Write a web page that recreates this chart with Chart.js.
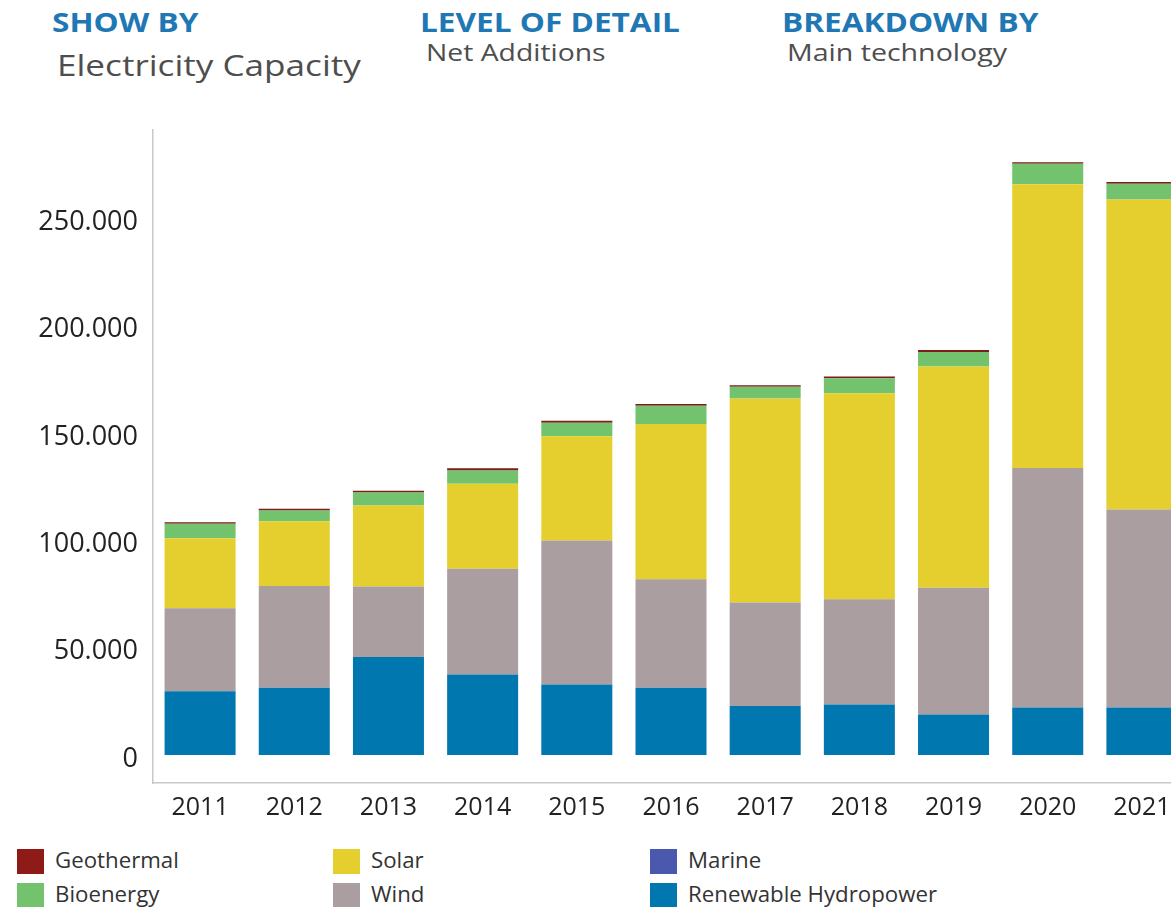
<!DOCTYPE html>
<html>
<head>
<meta charset="utf-8">
<script src="https://cdn.jsdelivr.net/npm/chart.js@4.4.1/dist/chart.umd.min.js"></script>
<style>
html,body{margin:0;padding:0;background:#fff;overflow:hidden;width:1171px;height:907px;}
.h{position:absolute;font-family:"Open Sans",sans-serif;white-space:nowrap;transform-origin:0 50%;line-height:1;}
.t{font-weight:bold;color:#1f78b4;font-size:27px;transform:scaleX(1.17);}
.s{color:#4e4e4e;}
#wrap{position:absolute;left:0;top:0;width:1200px;height:830px;}
.lg{position:absolute;font-family:"Open Sans",sans-serif;font-size:21px;color:#333;white-space:nowrap;line-height:1;}
.lg .b{position:absolute;left:0;width:27px;height:25px;}
.lg .l{position:absolute;left:38px;top:1px;transform:scaleX(1.06);transform-origin:0 50%;}
</style>
</head>
<body>
<div class="h t" style="left:52px;top:8px;">SHOW BY</div>
<div class="h s" style="left:57px;top:50px;font-size:30px;transform:scaleX(1.17);">Electricity Capacity</div>
<div class="h t" style="left:420px;top:8px;">LEVEL OF DETAIL</div>
<div class="h s" style="left:426px;top:40px;font-size:24px;transform:scaleX(1.18);">Net Additions</div>
<div class="h t" style="left:782px;top:8px;">BREAKDOWN BY</div>
<div class="h s" style="left:787px;top:40px;font-size:24px;transform:scaleX(1.19);">Main technology</div>
<div id="wrap"><canvas id="c" width="1200" height="830" style="width:1200px;height:830px;"></canvas></div>
<div id="legend"></div>
<script>
const categories = ['2011','2012','2013','2014','2015','2016','2017','2018','2019','2020','2021'];
const hydro  = [29700, 31300, 45700, 37500, 32900, 31300, 22800, 23600, 18900, 22100, 22100];
const marine = [0, 0, 0, 0, 0, 0, 0, 0, 0, 0, 0];
const wind   = [38700, 47400, 32800, 49300, 67000, 50500, 48200, 48900, 59000, 111500, 92200];
const solar  = [32500, 30200, 37700, 39500, 48500, 72300, 95000, 95900, 103000, 132100, 144400];
const bio    = [6800, 4950, 6000, 6200, 6300, 8500, 5500, 7000, 6800, 9600, 7300];
const geo    = [700, 800, 900, 1000, 900, 800, 700, 800, 900, 700, 800];
const yTicks = [0, 50000, 100000, 150000, 200000, 250000];

const colors = {
  'Renewable Hydropower':'#0077ae', 'Marine':'#4a58ad', 'Wind':'#ab9ea1',
  'Solar':'#e4cf2f', 'Bioenergy':'#73c26d', 'Geothermal':'#7e1c17'
};
const legendColors = Object.assign({}, colors, {'Geothermal':'#8e1b17'});

function fmt(v){ return String(v).replace(/\B(?=(\d{3})+(?!\d))/g,'.'); }

const datasets = [
  {label:'Renewable Hydropower', data:hydro},
  {label:'Marine', data:marine},
  {label:'Wind', data:wind},
  {label:'Solar', data:solar},
  {label:'Bioenergy', data:bio},
  {label:'Geothermal', data:geo}
].map(d => Object.assign(d, {backgroundColor:colors[d.label], borderWidth:0}));

new Chart(document.getElementById('c'), {
  type:'bar',
  data:{labels:categories, datasets:datasets},
  options:{
    responsive:false, animation:false,
    layout:{padding:{top:130, left:0, right:11, bottom:0}},
    plugins:{legend:{display:false}, tooltip:{enabled:false}},
    datasets:{bar:{categoryPercentage:1, barPercentage:0.754}},
    scales:{
      x:{stacked:true,
         grid:{display:false, drawTicks:false},
         border:{color:'#c8c8c8', width:1.5},
         ticks:{font:{family:'"Open Sans", sans-serif', size:25}, color:'#222', padding:10, maxRotation:0, autoSkip:false},
         afterFit(s){ s.height = 47; }},
      y:{stacked:true, min:-13000, max:291000,
         grid:{display:false, drawTicks:false},
         border:{color:'#c8c8c8', width:1.5},
         ticks:{font:{family:'"Open Sans", sans-serif', size:27}, color:'#222', padding:15, labelOffset:4, callback:v=>fmt(v)},
         afterBuildTicks(s){ s.ticks = yTicks.map(v=>({value:v})); },
         afterFit(s){ s.width = 153; }}
    }
  }
});

const legendOrder = [['Geothermal','Solar','Marine'],['Bioenergy','Wind','Renewable Hydropower']];
const colLeft = [17, 333, 650];
const rowTop = [849, 883];
const lgEl = document.getElementById('legend');
legendOrder.forEach((row, r) => row.forEach((name, c) => {
  const d = document.createElement('div');
  d.className = 'lg';
  d.style.left = colLeft[c] + 'px';
  d.style.top = rowTop[r] + 'px';
  d.innerHTML = '<div class="b" style="background:' + legendColors[name] + '"></div><div class="l">' + name + '</div>';
  lgEl.appendChild(d);
}));
</script>
</body>
</html>
